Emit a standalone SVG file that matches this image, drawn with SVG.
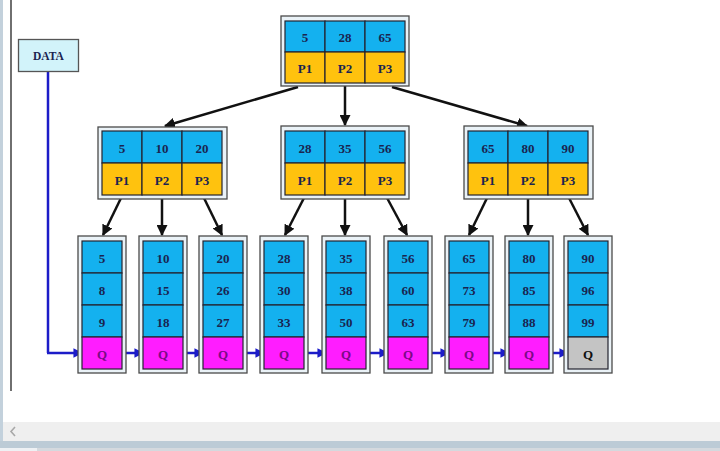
<svg xmlns="http://www.w3.org/2000/svg" width="720" height="451" viewBox="0 0 720 451">
<defs>
<style>
.frame{fill:#eaf2f7;stroke:#4a4a4a;stroke-width:1.3}
.k{fill:#14b1ef;stroke:#23232f;stroke-width:1.2}
.p{fill:#ffc20e;stroke:#23232f;stroke-width:1.2}
.q{fill:#ff1dff;stroke:#23232f;stroke-width:1.2}
.qg{fill:#c4c4c4;stroke:#23232f;stroke-width:1.2}
.t{font-family:"Liberation Serif","DejaVu Serif",serif;font-weight:bold;font-size:13px;fill:#1a2450;text-anchor:middle;dominant-baseline:central}
.tq{fill:#7a0a86}
.tb{fill:#111}
.e{stroke:#111;stroke-width:2.5;fill:none;marker-end:url(#ah)}
.b{stroke:#1c1cc8;stroke-width:2.5;fill:none}
.ba{stroke:#1c1cc8;stroke-width:2.5;fill:none;marker-end:url(#bh)}
</style>
<marker id="ah" viewBox="0 0 10 10" refX="9" refY="5" markerWidth="4.4" markerHeight="4.4" orient="auto" markerUnits="strokeWidth">
<path d="M0,0 L10,5 L0,10 z" fill="#111"/>
</marker>
<marker id="bh" viewBox="0 0 10 10" refX="9" refY="5" markerWidth="3.8" markerHeight="3.8" orient="auto" markerUnits="strokeWidth">
<path d="M0,0 L10,5 L0,10 z" fill="#1c1cc8"/>
</marker>
</defs>
<rect x="0" y="0" width="720" height="451" fill="#ffffff"/>
<g id="window">
<rect x="0" y="0" width="3" height="441" fill="#c3d1dc"/>
<line x1="11" y1="0" x2="11" y2="391" stroke="#333" stroke-width="1.4"/>
<rect x="3" y="422" width="717" height="19" fill="#efefef"/>
<polyline points="15,427 11,431.5 15,436" fill="none" stroke="#a8a8a8" stroke-width="1.6"/>
<rect x="0" y="441" width="720" height="7" fill="#bccbd6"/>
<rect x="0" y="448" width="720" height="3" fill="#d4d9de"/>
<rect x="0" y="448" width="37" height="3" fill="#eef1f4"/>
</g>

<g id="connectors">
<path class="e" d="M298,87 L165,126"/>
<path class="e" d="M345,86 L345,125"/>
<path class="e" d="M392,87 L527,126"/>
<path class="e" d="M122,196 L103,235"/>
<path class="e" d="M162,196 L162,235"/>
<path class="e" d="M203,196 L222,235"/>
<path class="e" d="M305,196 L285,235"/>
<path class="e" d="M345,196 L345,235"/>
<path class="e" d="M386,196 L407,235"/>
<path class="e" d="M488,196 L469,235"/>
<path class="e" d="M528,196 L528,235"/>
<path class="e" d="M568,196 L588,235"/>
<path class="b" d="M48,72 L48,353"/>
<path class="ba" d="M47,353 L82,353"/>
<path class="ba" d="M126,353 L143,353"/>
<path class="ba" d="M187,353 L203,353"/>
<path class="ba" d="M247,353 L264,353"/>
<path class="ba" d="M308,353 L326,353"/>
<path class="ba" d="M370,353 L388,353"/>
<path class="ba" d="M432,353 L449,353"/>
<path class="ba" d="M493,353 L509,353"/>
<path class="ba" d="M553,353 L568,353"/>
</g>

<g id="data">
<rect x="18.5" y="39.5" width="60" height="32" fill="#d2f3fa" stroke="#555" stroke-width="1.3"/>
<text class="t" x="48.5" y="56" style="font-size:11.5px">DATA</text>
</g>

<g id="root">
<rect class="frame" x="281" y="16" width="128" height="70"/>
<rect class="k" x="285" y="21" width="40" height="31"/><rect class="k" x="325" y="21" width="40" height="31"/><rect class="k" x="365" y="21" width="40" height="31"/>
<rect class="p" x="285" y="52" width="40" height="31"/><rect class="p" x="325" y="52" width="40" height="31"/><rect class="p" x="365" y="52" width="40" height="31"/>
<text class="t" x="305" y="37">5</text><text class="t" x="345" y="37">28</text><text class="t" x="385" y="37">65</text>
<text class="t" x="305" y="68">P1</text><text class="t" x="345" y="68">P2</text><text class="t" x="385" y="68">P3</text>
</g>

<g id="inner1">
<rect class="frame" x="98" y="127" width="129" height="72"/>
<rect class="k" x="102" y="131" width="40" height="32"/><rect class="k" x="142" y="131" width="40" height="32"/><rect class="k" x="182" y="131" width="40" height="32"/>
<rect class="p" x="102" y="163" width="40" height="32"/><rect class="p" x="142" y="163" width="40" height="32"/><rect class="p" x="182" y="163" width="40" height="32"/>
<text class="t" x="122" y="148">5</text><text class="t" x="162" y="148">10</text><text class="t" x="202" y="148">20</text>
<text class="t" x="122" y="180">P1</text><text class="t" x="162" y="180">P2</text><text class="t" x="202" y="180">P3</text>
</g>

<g id="inner2">
<rect class="frame" x="281" y="126" width="128" height="73"/>
<rect class="k" x="285" y="131" width="40" height="32"/><rect class="k" x="325" y="131" width="40" height="32"/><rect class="k" x="365" y="131" width="40" height="32"/>
<rect class="p" x="285" y="163" width="40" height="32"/><rect class="p" x="325" y="163" width="40" height="32"/><rect class="p" x="365" y="163" width="40" height="32"/>
<text class="t" x="305" y="148">28</text><text class="t" x="345" y="148">35</text><text class="t" x="385" y="148">56</text>
<text class="t" x="305" y="180">P1</text><text class="t" x="345" y="180">P2</text><text class="t" x="385" y="180">P3</text>
</g>

<g id="inner3">
<rect class="frame" x="464" y="126" width="129" height="73"/>
<rect class="k" x="468" y="131" width="40" height="32"/><rect class="k" x="508" y="131" width="40" height="32"/><rect class="k" x="548" y="131" width="40" height="32"/>
<rect class="p" x="468" y="163" width="40" height="32"/><rect class="p" x="508" y="163" width="40" height="32"/><rect class="p" x="548" y="163" width="40" height="32"/>
<text class="t" x="488" y="148">65</text><text class="t" x="528" y="148">80</text><text class="t" x="568" y="148">90</text>
<text class="t" x="488" y="180">P1</text><text class="t" x="528" y="180">P2</text><text class="t" x="568" y="180">P3</text>
</g>

<g id="leaf1" transform="translate(78,0)">
<rect class="frame" x="0" y="236" width="48" height="137"/>
<rect class="k" x="4" y="241" width="40" height="32"/><rect class="k" x="4" y="273" width="40" height="32"/><rect class="k" x="4" y="305" width="40" height="32"/><rect class="q" x="4" y="337" width="40" height="32"/>
<text class="t" x="24" y="258">5</text><text class="t" x="24" y="290">8</text><text class="t" x="24" y="322">9</text><text class="t tq" x="24" y="354">Q</text>
</g>
<g id="leaf2" transform="translate(139,0)">
<rect class="frame" x="0" y="236" width="48" height="137"/>
<rect class="k" x="4" y="241" width="40" height="32"/><rect class="k" x="4" y="273" width="40" height="32"/><rect class="k" x="4" y="305" width="40" height="32"/><rect class="q" x="4" y="337" width="40" height="32"/>
<text class="t" x="24" y="258">10</text><text class="t" x="24" y="290">15</text><text class="t" x="24" y="322">18</text><text class="t tq" x="24" y="354">Q</text>
</g>
<g id="leaf3" transform="translate(199,0)">
<rect class="frame" x="0" y="236" width="48" height="137"/>
<rect class="k" x="4" y="241" width="40" height="32"/><rect class="k" x="4" y="273" width="40" height="32"/><rect class="k" x="4" y="305" width="40" height="32"/><rect class="q" x="4" y="337" width="40" height="32"/>
<text class="t" x="24" y="258">20</text><text class="t" x="24" y="290">26</text><text class="t" x="24" y="322">27</text><text class="t tq" x="24" y="354">Q</text>
</g>
<g id="leaf4" transform="translate(260,0)">
<rect class="frame" x="0" y="236" width="48" height="137"/>
<rect class="k" x="4" y="241" width="40" height="32"/><rect class="k" x="4" y="273" width="40" height="32"/><rect class="k" x="4" y="305" width="40" height="32"/><rect class="q" x="4" y="337" width="40" height="32"/>
<text class="t" x="24" y="258">28</text><text class="t" x="24" y="290">30</text><text class="t" x="24" y="322">33</text><text class="t tq" x="24" y="354">Q</text>
</g>
<g id="leaf5" transform="translate(322,0)">
<rect class="frame" x="0" y="236" width="48" height="137"/>
<rect class="k" x="4" y="241" width="40" height="32"/><rect class="k" x="4" y="273" width="40" height="32"/><rect class="k" x="4" y="305" width="40" height="32"/><rect class="q" x="4" y="337" width="40" height="32"/>
<text class="t" x="24" y="258">35</text><text class="t" x="24" y="290">38</text><text class="t" x="24" y="322">50</text><text class="t tq" x="24" y="354">Q</text>
</g>
<g id="leaf6" transform="translate(384,0)">
<rect class="frame" x="0" y="236" width="48" height="137"/>
<rect class="k" x="4" y="241" width="40" height="32"/><rect class="k" x="4" y="273" width="40" height="32"/><rect class="k" x="4" y="305" width="40" height="32"/><rect class="q" x="4" y="337" width="40" height="32"/>
<text class="t" x="24" y="258">56</text><text class="t" x="24" y="290">60</text><text class="t" x="24" y="322">63</text><text class="t tq" x="24" y="354">Q</text>
</g>
<g id="leaf7" transform="translate(445,0)">
<rect class="frame" x="0" y="236" width="48" height="137"/>
<rect class="k" x="4" y="241" width="40" height="32"/><rect class="k" x="4" y="273" width="40" height="32"/><rect class="k" x="4" y="305" width="40" height="32"/><rect class="q" x="4" y="337" width="40" height="32"/>
<text class="t" x="24" y="258">65</text><text class="t" x="24" y="290">73</text><text class="t" x="24" y="322">79</text><text class="t tq" x="24" y="354">Q</text>
</g>
<g id="leaf8" transform="translate(505,0)">
<rect class="frame" x="0" y="236" width="48" height="137"/>
<rect class="k" x="4" y="241" width="40" height="32"/><rect class="k" x="4" y="273" width="40" height="32"/><rect class="k" x="4" y="305" width="40" height="32"/><rect class="q" x="4" y="337" width="40" height="32"/>
<text class="t" x="24" y="258">80</text><text class="t" x="24" y="290">85</text><text class="t" x="24" y="322">88</text><text class="t tq" x="24" y="354">Q</text>
</g>
<g id="leaf9" transform="translate(564,0)">
<rect class="frame" x="0" y="236" width="48" height="137"/>
<rect class="k" x="4" y="241" width="40" height="32"/><rect class="k" x="4" y="273" width="40" height="32"/><rect class="k" x="4" y="305" width="40" height="32"/><rect class="qg" x="4" y="337" width="40" height="32"/>
<text class="t" x="24" y="258">90</text><text class="t" x="24" y="290">96</text><text class="t" x="24" y="322">99</text><text class="t tb" x="24" y="354">Q</text>
</g>
</svg>
